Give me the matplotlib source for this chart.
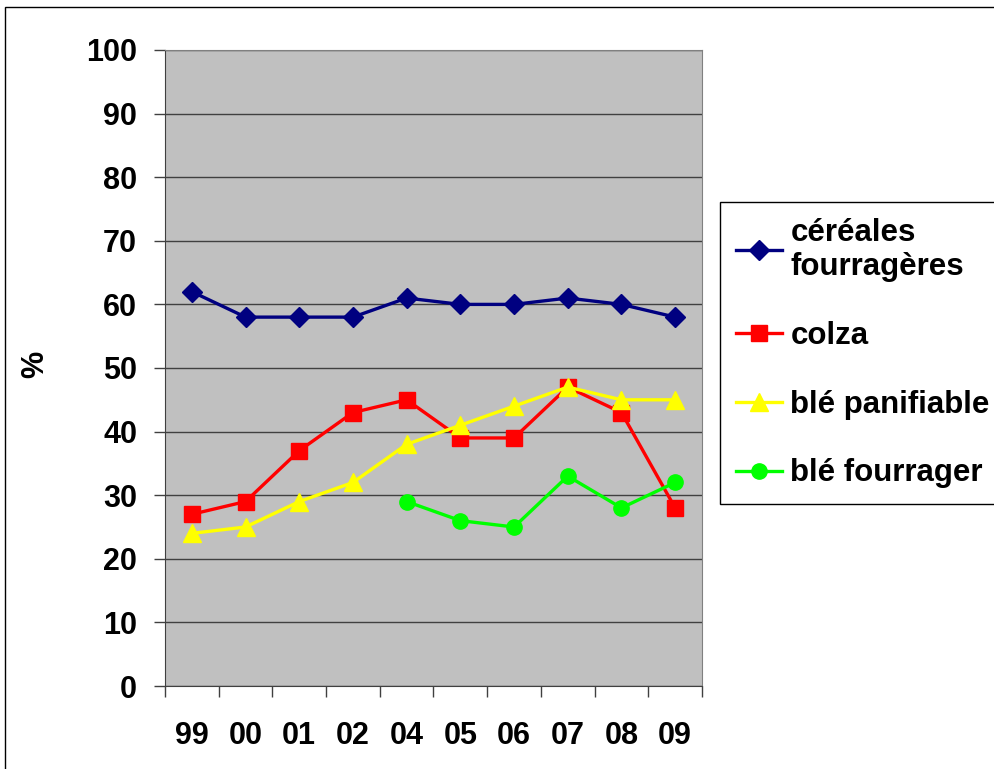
import matplotlib
matplotlib.use("Agg")
import matplotlib.pyplot as plt
import numpy as np
from matplotlib.patches import Rectangle

years = ["99", "00", "01", "02", "04", "05", "06", "07", "08", "09"]
cereales = [62, 58, 58, 58, 61, 60, 60, 61, 60, 58]
colza = [27, 29, 37, 43, 45, 39, 39, 47, 43, 28]
ble_panif = [24, 25, 29, 32, 38, 41, 44, 47, 45, 45]
ble_fourr = [np.nan, np.nan, np.nan, np.nan, 29, 26, 25, 33, 28, 32]

plt.rcParams['font.family'] = ['Liberation Sans', 'DejaVu Sans']
plt.rcParams['font.weight'] = 'bold'

fig = plt.figure(figsize=(9.95, 7.69), dpi=100)
ax = fig.add_axes([165/995, 1-686/769, (702-165)/995, (686-50)/769])
ax.set_facecolor('#C0C0C0')

x = np.arange(len(years))
ax.plot(x, cereales, color='#000080', lw=2.4, marker='D', ms=10, label='céréales\nfourragères')
ax.plot(x, colza, color='#FF0000', lw=2.4, marker='s', ms=11, label='colza')
ax.plot(x, ble_panif, color='#FFFF00', lw=2.4, marker='^', ms=13, label='blé panifiable')
ax.plot(x, ble_fourr, color='#00FF00', lw=2.4, marker='o', ms=11, label='blé fourrager')

ax.set_xlim(-0.5, 9.5)
ax.set_ylim(0, 100)
ax.set_yticks(np.arange(0, 101, 10))
ax.yaxis.grid(True, color='#404040', lw=1)
ax.set_axisbelow(True)

ax.set_xticks(np.arange(-0.5, 10, 1))
ax.set_xticklabels([])
ax.set_xticks(x, minor=True)
ax.set_xticklabels(years, minor=True)
ax.tick_params(axis='x', which='major', length=8, width=1, color='#404040')
ax.tick_params(axis='x', which='minor', length=0, pad=25, labelsize=22)
ax.tick_params(axis='y', length=8, width=1, color='#404040', pad=12, labelsize=22)

for s in ['top', 'right']:
    ax.spines[s].set_color('#808080')
for s in ['left', 'bottom']:
    ax.spines[s].set_color('#404040')

ax.set_ylabel('%', fontsize=22, fontweight='bold')
ax.yaxis.set_label_coords((50-165)/537, 0.505)

leg = ax.legend(loc='upper left', bbox_to_anchor=(720/995, 1-202/769),
                bbox_transform=fig.transFigure, borderaxespad=0,
                fancybox=False, edgecolor='black', framealpha=1,
                handlelength=1.5, handletextpad=0.25,
                labelspacing=1.24, borderpad=0.5, prop={'weight': 'bold', 'size': 22.5})
leg.get_frame().set_linewidth(1)

fig.patches.append(Rectangle((5/995, -0.1), 1.2, 1-7/769+0.1, transform=fig.transFigure,
                             fill=False, edgecolor='black', lw=1))

fig.savefig('out.png', dpi=100)
